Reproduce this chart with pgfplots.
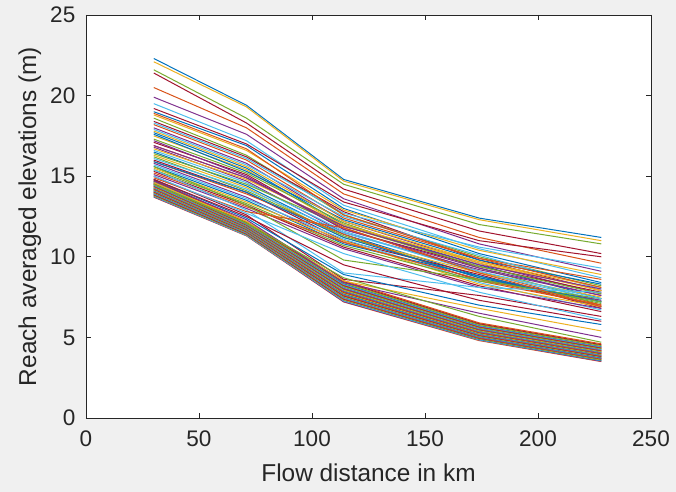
\documentclass[border=0pt]{standalone}
\usepackage{pgfplots}
\pgfplotsset{compat=1.18}
\usepackage{fontspec}
\setmainfont{Liberation Sans}
\definecolor{figbg}{HTML}{F0F0F0}
\definecolor{axgray}{HTML}{262626}
\definecolor{mb}{HTML}{0072BD}
\definecolor{mo}{HTML}{D95319}
\definecolor{my}{HTML}{EDB120}
\definecolor{mp}{HTML}{7E2F8E}
\definecolor{mg}{HTML}{77AC30}
\definecolor{mc}{HTML}{4DBEEE}
\definecolor{mr}{HTML}{A2142F}
\newcommand{\rch}[5]{\addplot coordinates {(30,#1) (71,#2) (114,#3) (174,#4) (228,#5)};}
\begin{document}
\begin{tikzpicture}
\fill[figbg] (-64.5pt,-55.5pt) rectangle (442.5pt,313.5pt);
\begin{axis}[
  at={(0,0)}, anchor=south west,
  scale only axis, width=423.75pt, height=302.25pt,
  xmin=0, xmax=250, ymin=0, ymax=25,
  xtick={0,50,...,250}, ytick={0,5,...,25},
  tick align=inside, major tick length=3.75pt,
  axis background/.style={fill=white},
  axis line style={axgray, line width=0.6pt},
  tick style={axgray, line width=0.6pt},
  /pgf/number format/assume math mode=true,
  ticklabel style={font=\fontsize{16.9}{18}\selectfont, text=axgray},
  label style={font=\fontsize{18.3}{20}\selectfont, text=axgray},
  xticklabel shift=6pt, yticklabel shift=4.5pt,
  xlabel shift=6pt,
  xlabel={Flow distance in km},
  ylabel={Reach averaged elevations (m)},
  cycle list={{mb},{mo},{my},{mp},{mg},{mc},{mr}},
  every axis plot/.append style={line width=0.75pt, no markers},
]
\rch{22.3}{19.4}{14.8}{12.4}{11.2}
\rch{13.70}{11.30}{7.20}{4.80}{3.50}
\rch{22.1}{19.3}{14.7}{12.3}{11.0}
\rch{13.72}{11.32}{7.22}{4.84}{3.52}
\rch{21.6}{18.6}{14.5}{12.0}{10.8}
\rch{13.75}{11.33}{7.27}{4.85}{3.56}
\rch{21.4}{18.3}{14.2}{11.6}{10.2}
\rch{13.78}{11.37}{7.31}{4.88}{3.57}
\rch{20.5}{18.0}{13.9}{11.2}{9.6}
\rch{13.80}{11.38}{7.33}{4.91}{3.60}
\rch{19.9}{17.6}{13.6}{10.8}{9.1}
\rch{13.82}{11.40}{7.36}{4.92}{3.62}
\rch{19.5}{17.2}{13.2}{10.5}{8.7}
\rch{13.85}{11.42}{7.38}{4.95}{3.66}
\rch{19.0}{16.9}{13.0}{10.2}{8.4}
\rch{13.88}{11.45}{7.41}{4.97}{3.67}
\rch{18.8}{16.6}{12.9}{10.4}{8.9}
\rch{13.90}{11.46}{7.45}{5.00}{3.70}
\rch{18.6}{16.3}{12.6}{10.0}{8.2}
\rch{13.92}{11.48}{7.46}{5.03}{3.72}
\rch{18.4}{16.2}{12.8}{9.8}{7.9}
\rch{13.95}{11.50}{7.50}{5.05}{3.74}
\rch{18.2}{16.0}{12.4}{9.9}{8.6}
\rch{13.98}{11.52}{7.53}{5.08}{3.78}
\rch{18.0}{15.8}{12.2}{9.6}{7.7}
\rch{14.00}{11.54}{7.56}{5.10}{3.80}
\rch{17.9}{15.7}{12.5}{10.1}{8.0}
\rch{14.02}{11.56}{7.58}{5.12}{3.82}
\rch{17.7}{15.5}{12.0}{9.5}{7.4}
\rch{14.05}{11.58}{7.62}{5.15}{3.85}
\rch{17.5}{15.4}{11.9}{9.7}{8.1}
\rch{14.08}{11.61}{7.66}{5.18}{3.88}
\rch{17.3}{15.2}{12.1}{9.3}{7.2}
\rch{14.10}{11.62}{7.68}{5.20}{3.90}
\rch{17.1}{15.1}{11.7}{9.4}{7.8}
\rch{14.12}{11.64}{7.70}{5.22}{3.92}
\rch{16.9}{14.9}{11.8}{9.1}{7.0}
\rch{14.15}{11.66}{7.74}{5.25}{3.95}
\rch{16.8}{14.7}{11.5}{9.2}{7.6}
\rch{14.18}{11.68}{7.78}{5.28}{3.97}
\rch{16.6}{14.6}{11.6}{9.0}{7.3}
\rch{14.20}{11.70}{7.80}{5.30}{4.00}
\rch{16.5}{14.4}{11.4}{8.8}{6.9}
\rch{14.22}{11.72}{7.82}{5.32}{4.02}
\rch{16.3}{14.3}{11.2}{9.0}{7.5}
\rch{14.25}{11.74}{7.86}{5.35}{4.05}
\rch{16.2}{14.1}{11.3}{8.7}{7.1}
\rch{14.28}{11.76}{7.90}{5.38}{4.08}
\rch{16.0}{14.0}{11.0}{8.9}{6.8}
\rch{14.30}{11.78}{7.92}{5.40}{4.10}
\rch{15.9}{13.9}{11.4}{8.5}{7.0}
\rch{14.32}{11.80}{7.94}{5.42}{4.12}
\rch{15.8}{13.7}{10.9}{8.6}{7.3}
\rch{14.35}{11.82}{7.98}{5.45}{4.15}
\rch{15.7}{13.6}{11.1}{8.4}{6.7}
\rch{14.38}{11.84}{8.02}{5.48}{4.18}
\rch{15.6}{13.5}{10.8}{8.8}{7.2}
\rch{14.40}{11.86}{8.04}{5.50}{4.20}
\rch{15.5}{13.4}{11.0}{8.3}{6.9}
\rch{14.42}{11.88}{8.06}{5.52}{4.22}
\rch{15.4}{13.3}{10.7}{8.5}{7.4}
\rch{14.45}{11.90}{8.10}{5.55}{4.25}
\rch{15.3}{13.2}{10.6}{8.2}{6.6}
\rch{14.48}{11.92}{8.14}{5.58}{4.28}
\rch{15.2}{13.1}{10.9}{8.6}{7.0}
\rch{14.50}{11.94}{8.16}{5.60}{4.30}
\rch{15.1}{13.0}{10.5}{8.1}{6.8}
\rch{14.52}{11.96}{8.18}{5.62}{4.32}
\rch{18.3}{16.1}{12.7}{10.6}{9.3}
\rch{14.55}{11.98}{8.22}{5.65}{4.35}
\rch{17.6}{15.3}{12.3}{9.8}{8.3}
\rch{14.58}{12.00}{8.26}{5.68}{4.38}
\rch{16.7}{14.8}{12.0}{9.6}{7.9}
\rch{14.60}{12.02}{8.28}{5.70}{4.40}
\rch{16.4}{14.5}{11.9}{9.4}{7.7}
\rch{14.62}{12.04}{8.30}{5.72}{4.42}
\rch{19.2}{17.0}{13.4}{11.0}{10.0}
\rch{14.65}{12.06}{8.34}{5.75}{4.45}
\rch{18.9}{16.7}{12.6}{9.9}{8.1}
\rch{14.68}{12.08}{8.38}{5.78}{4.48}
\rch{17.2}{15.0}{11.7}{9.3}{7.6}
\rch{14.70}{12.10}{8.40}{5.80}{4.50}
\rch{16.1}{14.2}{11.5}{9.1}{7.4}
\rch{14.75}{12.14}{8.46}{5.85}{4.55}
\rch{15.9}{14.0}{11.2}{8.7}{7.2}
\rch{14.80}{12.18}{8.52}{5.90}{4.60}
\rch{17.8}{15.6}{12.2}{9.7}{7.9}
\rch{16.9}{14.9}{11.9}{9.5}{8.0}
\rch{15.6}{13.2}{9.8}{8.6}{7.2}
\rch{15.4}{12.9}{9.0}{8.1}{7.8}
\rch{15.0}{12.6}{8.6}{7.6}{6.3}
\rch{14.8}{12.4}{8.9}{7.0}{5.8}
\rch{14.9}{12.8}{11.8}{9.0}{6.9}
\rch{14.6}{12.2}{8.5}{6.8}{5.4}
\rch{14.7}{12.3}{8.4}{6.5}{5.0}
\rch{14.5}{12.1}{8.7}{6.3}{4.7}
\rch{15.0}{12.7}{10.2}{7.8}{6.1}
\rch{14.8}{12.5}{9.5}{7.3}{6.0}
\end{axis}
\end{tikzpicture}
\end{document}
